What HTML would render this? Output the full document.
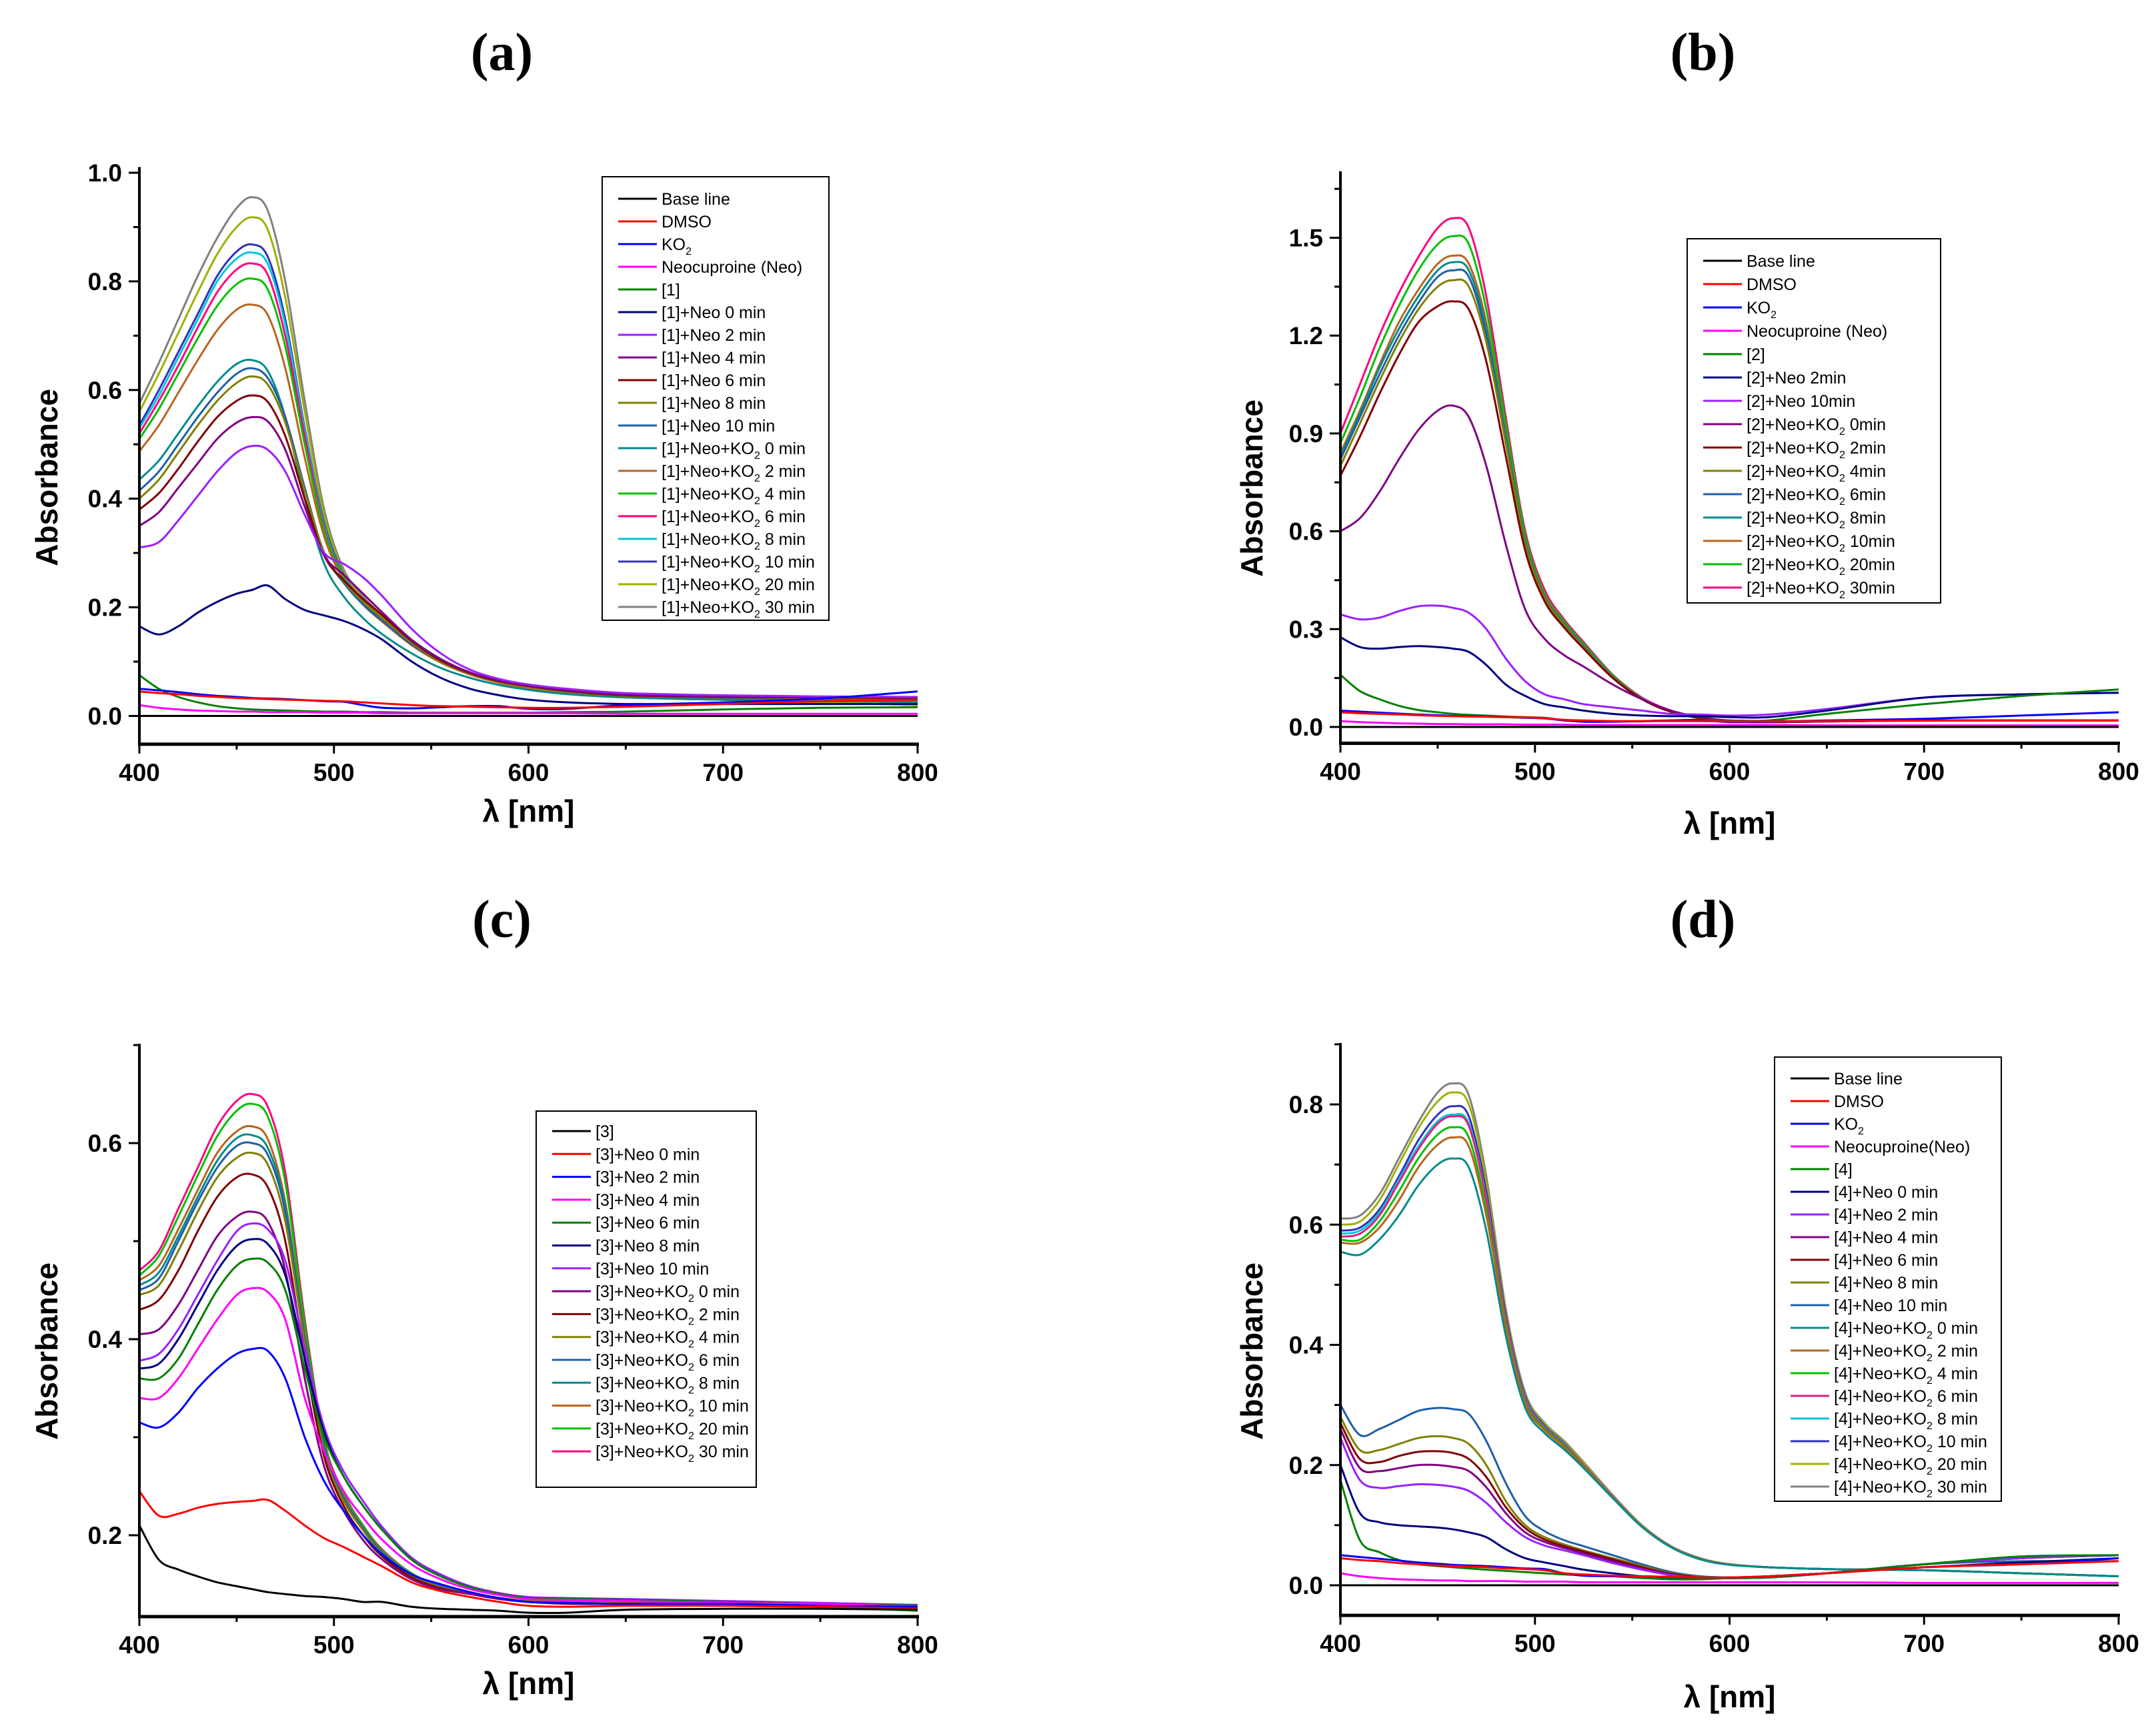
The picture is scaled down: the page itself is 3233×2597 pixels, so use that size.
<!DOCTYPE html>
<html><head><meta charset="utf-8"><title>UV-Vis spectra</title>
<style>
body{margin:0;background:#fff;}
svg{display:block;}
.tick{font-family:"Liberation Sans",sans-serif;font-weight:bold;font-size:37px;fill:#000;}
.atitle{font-family:"Liberation Sans",sans-serif;font-weight:bold;font-size:46px;fill:#000;}
.ptitle{font-family:"Liberation Serif",serif;font-weight:bold;font-size:80px;fill:#000;}
.leg{font-family:"Liberation Sans",sans-serif;font-size:25px;fill:#000;}
</style></head>
<body>
<svg id="chart" width="3233" height="2597" viewBox="0 0 3233 2597" xmlns="http://www.w3.org/2000/svg">
<rect width="3233" height="2597" fill="#fff"/>
</svg>
<script>
// Shared wavelength grid (nm)
const wavelengths=[400,410,420,430,440,450,458,466,475,485,495,505,515,525,540,555,570,585,600,620,650,700,750,800];
const xTicks=[400,500,600,700,800];

// ---- Panel (a) ----
const aNames=["Base line","DMSO","KO2","Neocuproine (Neo)","[1]","[1]+Neo 0 min","[1]+Neo 2 min","[1]+Neo 4 min","[1]+Neo 6 min","[1]+Neo 8 min","[1]+Neo 10 min","[1]+Neo+KO2 0 min","[1]+Neo+KO2 2 min","[1]+Neo+KO2 4 min","[1]+Neo+KO2 6 min","[1]+Neo+KO2 8 min","[1]+Neo+KO2 10 min","[1]+Neo+KO2  20 min","[1]+Neo+KO2  30 min"];
const aColors=["#000000","#ff0000","#0000ff","#ff00ff","#008000","#000080","#9b20ff","#800080","#800000","#808000","#1f5fa8","#008b8b","#b8641e","#00c000","#ff0080","#00c8d8","#3030c0","#a0b000","#808080"];
const aBase=[0,0,0,0,0,0,0,0,0,0,0,0,0,0,0,0,0,0,0,0,0,0,0,0];
const aDMSO=[.045,.042,.04,.037,.035,.033,.032,.031,.03,.029,.028,.027,.025,.023,.02,.018,.017,.016,.015,.015,.017,.022,.027,.03];
const aKO2=[.05,.047,.044,.04,.037,.035,.033,.032,.031,.029,.027,.026,.02,.015,.014,.016,.018,.018,.013,.013,.02,.025,.032,.045];
const aNeo=[.02,.015,.012,.01,.009,.008,.008,.007,.007,.007,.006,.006,.006,.005,.005,.005,.005,.005,.005,.005,.004,.004,.004,.004];
const a1=[.075,.05,.035,.025,.018,.014,.012,.011,.01,.009,.008,.008,.007,.007,.006,.006,.006,.006,.006,.007,.008,.012,.015,.016];
const aN0=[.165,.15,.165,.19,.21,.225,.232,.24,.215,.195,.185,.175,.16,.14,.10,.07,.05,.038,.03,.025,.022,.022,.022,.022];
const aN2=[.31,.32,.36,.405,.45,.485,.497,.49,.45,.37,.30,.28,.255,.22,.16,.115,.085,.068,.058,.05,.042,.038,.036,.035];
const aN4=[.35,.375,.42,.465,.51,.54,.55,.542,.49,.385,.295,.26,.225,.19,.14,.104,.08,.065,.056,.047,.039,.036,.035,.034];
const aN6=[.38,.41,.455,.505,.55,.58,.59,.578,.515,.40,.295,.25,.215,.185,.138,.102,.079,.064,.055,.046,.038,.035,.034,.033];
const aN8=[.40,.435,.485,.535,.58,.613,.625,.61,.54,.415,.30,.248,.21,.18,.135,.10,.078,.063,.054,.045,.037,.034,.033,.032];
const aN10=[.415,.45,.50,.55,.595,.63,.64,.622,.55,.42,.30,.245,.205,.175,.132,.10,.078,.063,.054,.045,.037,.033,.032,.03];
const aK0=[.435,.47,.52,.57,.615,.648,.655,.635,.55,.40,.28,.22,.18,.15,.115,.088,.07,.057,.048,.04,.034,.03,.028,.025];
const aK2=[.487,.535,.595,.655,.71,.748,.757,.738,.64,.475,.33,.25,.205,.173,.13,.098,.076,.061,.051,.041,.034,.03,.028,.025];
const aK4=[.51,.565,.63,.695,.755,.795,.805,.785,.68,.50,.34,.255,.207,.175,.131,.099,.077,.062,.052,.042,.035,.032,.03,.028];
const aK6=[.52,.58,.645,.715,.78,.822,.833,.812,.70,.515,.345,.256,.208,.176,.132,.10,.077,.062,.052,.042,.035,.032,.03,.028];
const aK8=[.53,.59,.66,.73,.80,.842,.853,.832,.72,.525,.35,.258,.21,.177,.132,.10,.077,.062,.052,.042,.035,.03,.028,.025];
const aK10=[.535,.60,.67,.74,.81,.855,.868,.845,.73,.53,.355,.26,.21,.178,.133,.10,.078,.063,.053,.043,.035,.03,.028,.025];
const aK20=[.56,.63,.705,.78,.85,.90,.918,.895,.77,.56,.37,.265,.215,.18,.135,.10,.078,.063,.053,.043,.035,.03,.025,.02];
const aK30=[.575,.65,.73,.81,.88,.935,.955,.93,.80,.58,.38,.27,.22,.185,.14,.105,.08,.065,.055,.045,.035,.03,.025,.02];
const aSeries=[aBase,aDMSO,aKO2,aNeo,a1,aN0,aN2,aN4,aN6,aN8,aN10,aK0,aK2,aK4,aK6,aK8,aK10,aK20,aK30];
const aTicks=[0.0,0.2,0.4,0.6,0.8,1.0];

// ---- Panel (b) ----
const bNames=["Base line","DMSO","KO2","Neocuproine (Neo)","[2]","[2]+Neo 2min","[2]+Neo 10min","[2]+Neo+KO2 0min","[2]+Neo+KO2 2min","[2]+Neo+KO2 4min","[2]+Neo+KO2 6min","[2]+Neo+KO2 8min","[2]+Neo+KO2 10min","[2]+Neo+KO2 20min","[2]+Neo+KO2 30min"];
const bColors=["#000000","#ff0000","#0000ff","#ff00ff","#008000","#000080","#9b20ff","#800080","#800000","#808000","#1f5fa8","#008b8b","#b8641e","#00c000","#ff0080"];
const bBase=[0,0,0,0,0,0,0,0,0,0,0,0,0,0,0,0,0,0,0,0,0,0,0,0];
const bDMSO=[.045,.042,.04,.038,.036,.034,.033,.032,.031,.03,.029,.027,.022,.02,.018,.018,.018,.018,.017,.017,.018,.019,.02,.02];
const bKO2=[.05,.047,.044,.041,.038,.036,.034,.033,.032,.03,.028,.026,.02,.016,.016,.018,.02,.02,.015,.016,.02,.025,.035,.045];
const bNeo=[.018,.015,.013,.011,.01,.009,.009,.008,.008,.008,.007,.007,.007,.006,.006,.006,.006,.006,.006,.006,.005,.005,.005,.005];
const b2=[.16,.11,.085,.065,.052,.045,.04,.037,.035,.032,.03,.028,.02,.018,.017,.017,.02,.022,.02,.02,.04,.07,.095,.115];
const bN2=[.275,.245,.24,.245,.248,.245,.24,.23,.19,.13,.095,.07,.06,.05,.04,.035,.033,.033,.03,.03,.05,.09,.10,.105];
const bN10=[.345,.33,.335,.355,.37,.372,.365,.35,.30,.21,.14,.10,.085,.07,.06,.05,.04,.038,.035,.038,.055,.09,.10,.105];
const bK0=[.60,.64,.72,.82,.91,.97,.985,.95,.80,.56,.36,.27,.22,.185,.13,.085,.05,.03,.02,.018,.018,.02,.02,.02];
const bK2=[.77,.89,1.02,1.14,1.24,1.29,1.305,1.28,1.12,.83,.54,.385,.305,.24,.15,.085,.046,.027,.017,.015,.017,.02,.02,.02];
const bK4=[.80,.93,1.06,1.18,1.28,1.35,1.37,1.35,1.18,.87,.56,.395,.313,.244,.153,.086,.047,.027,.017,.015,.017,.02,.02,.02];
const bK6=[.82,.95,1.08,1.20,1.30,1.38,1.40,1.38,1.20,.88,.565,.398,.315,.246,.154,.087,.047,.027,.017,.015,.017,.02,.02,.02];
const bK8=[.83,.96,1.10,1.22,1.32,1.40,1.425,1.40,1.22,.89,.57,.40,.318,.248,.155,.087,.047,.027,.017,.015,.017,.02,.02,.02];
const bK10=[.84,.97,1.11,1.24,1.34,1.42,1.445,1.42,1.24,.90,.575,.405,.32,.25,.155,.087,.047,.027,.017,.015,.017,.02,.02,.02];
const bK20=[.87,1.01,1.16,1.29,1.40,1.48,1.505,1.48,1.28,.93,.59,.41,.325,.255,.158,.088,.048,.028,.017,.015,.018,.02,.02,.02];
const bK30=[.90,1.05,1.20,1.33,1.44,1.53,1.56,1.53,1.32,.95,.60,.42,.33,.26,.16,.09,.05,.03,.018,.015,.018,.02,.02,.02];
const bSeries=[bBase,bDMSO,bKO2,bNeo,b2,bN2,bN10,bK0,bK2,bK4,bK6,bK8,bK10,bK20,bK30];
const bTicks=[0.0,0.3,0.6,0.9,1.2,1.5];

// ---- Panel (c) ----
const cNames=["[3]","[3]+Neo 0 min","[3]+Neo 2 min","[3]+Neo 4 min","[3]+Neo 6 min","[3]+Neo 8 min","[3]+Neo 10 min","[3]+Neo+KO2 0 min","[3]+Neo+KO2 2 min","[3]+Neo+KO2 4 min","[3]+Neo+KO2 6 min","[3]+Neo+KO2 8 min","[3]+Neo+KO2 10 min","[3]+Neo+KO2 20 min","[3]+Neo+KO2 30 min"];
const cColors=["#000000","#ff0000","#0000ff","#ff00ff","#008000","#000080","#9b20ff","#800080","#800000","#808000","#1f5fa8","#008b8b","#b8641e","#00c000","#ff0080"];
const c3=[.21,.175,.165,.158,.152,.148,.145,.142,.14,.138,.137,.135,.132,.132,.127,.125,.124,.123,.121,.121,.124,.125,.125,.124];
const cN0=[.245,.22,.222,.228,.232,.234,.235,.236,.225,.21,.197,.188,.178,.168,.152,.143,.137,.132,.128,.127,.128,.128,.127,.125];
const cN2=[.315,.31,.325,.35,.37,.385,.39,.388,.36,.30,.255,.225,.20,.18,.16,.15,.142,.136,.132,.131,.13,.13,.128,.127];
const cN4=[.34,.34,.36,.39,.42,.445,.452,.448,.42,.34,.285,.245,.218,.195,.17,.155,.145,.139,.135,.134,.133,.131,.13,.127];
const cN6=[.36,.36,.38,.415,.45,.475,.482,.478,.45,.37,.30,.26,.23,.205,.175,.158,.147,.14,.136,.135,.134,.132,.13,.128];
const cN8=[.37,.375,.40,.435,.47,.495,.502,.497,.465,.38,.305,.26,.23,.205,.175,.158,.147,.14,.136,.135,.134,.132,.13,.128];
const cN10=[.378,.385,.41,.445,.48,.51,.518,.512,.48,.39,.31,.265,.235,.208,.177,.16,.148,.141,.137,.136,.135,.133,.131,.129];
const cK0=[.405,.41,.435,.47,.505,.525,.53,.52,.47,.36,.27,.225,.195,.175,.155,.145,.14,.135,.132,.13,.13,.13,.128,.125];
const cK2=[.43,.44,.47,.51,.545,.565,.568,.555,.50,.38,.28,.23,.20,.178,.157,.146,.14,.135,.132,.131,.13,.13,.127,.124];
const cK4=[.445,.455,.49,.53,.565,.585,.59,.578,.52,.395,.285,.235,.205,.18,.158,.147,.14,.136,.133,.132,.131,.13,.127,.124];
const cK6=[.45,.462,.50,.54,.575,.597,.60,.588,.53,.40,.29,.238,.207,.182,.16,.148,.141,.136,.133,.132,.131,.13,.127,.124];
const cK8=[.455,.468,.505,.545,.582,.605,.608,.595,.535,.40,.29,.238,.207,.182,.16,.148,.141,.136,.133,.132,.131,.13,.127,.124];
const cK10=[.46,.475,.512,.552,.59,.612,.617,.604,.54,.405,.29,.24,.208,.183,.16,.148,.141,.136,.133,.132,.131,.13,.127,.124];
const cK20=[.465,.485,.525,.567,.607,.633,.64,.627,.56,.415,.295,.242,.21,.184,.161,.148,.141,.136,.133,.132,.131,.13,.127,.123];
const cK30=[.47,.49,.533,.575,.617,.643,.65,.637,.57,.42,.297,.243,.21,.185,.161,.148,.141,.136,.133,.132,.131,.13,.127,.123];
const cSeries=[c3,cN0,cN2,cN4,cN6,cN8,cN10,cK0,cK2,cK4,cK6,cK8,cK10,cK20,cK30];
const cTicks=[0.2,0.4,0.6];

// ---- Panel (d) ----
const dNames=["Base line","DMSO","KO2","Neocuproine(Neo)","[4]","[4]+Neo 0 min","[4]+Neo 2 min","[4]+Neo 4 min","[4]+Neo 6 min","[4]+Neo 8 min","[4]+Neo 10 min","[4]+Neo+KO2 0 min","[4]+Neo+KO2 2 min","[4]+Neo+KO2 4 min","[4]+Neo+KO2 6 min","[4]+Neo+KO2 8 min","[4]+Neo+KO2 10 min","[4]+Neo+KO2  20 min","[4]+Neo+KO2  30 min"];
const dColors=["#000000","#ff0000","#0000ff","#ff00ff","#008000","#000080","#9b20ff","#800080","#800000","#808000","#1f5fa8","#008b8b","#b8641e","#00c000","#e0207f","#00c8d8","#3030c0","#a0b000","#808080"];
const dBase=[0,0,0,0,0,0,0,0,0,0,0,0,0,0,0,0,0,0,0,0,0,0,0,0];
const dDMSO=[.045,.042,.04,.037,.035,.033,.032,.031,.03,.028,.027,.025,.02,.018,.016,.015,.014,.013,.013,.015,.02,.03,.035,.04];
const dKO2=[.05,.047,.044,.041,.038,.036,.034,.033,.032,.03,.028,.027,.02,.016,.015,.015,.014,.013,.013,.015,.02,.03,.035,.045];
const dNeo=[.02,.015,.012,.01,.009,.008,.008,.007,.007,.007,.006,.006,.006,.005,.005,.005,.005,.005,.005,.005,.005,.004,.004,.004];
const d4=[.175,.075,.055,.042,.035,.032,.03,.028,.026,.024,.022,.02,.018,.017,.015,.012,.01,.01,.012,.013,.02,.035,.048,.05];
const dN0=[.20,.12,.105,.10,.098,.096,.093,.088,.08,.06,.045,.038,.032,.026,.02,.015,.012,.012,.012,.015,.02,.03,.038,.045];
const dN2=[.245,.175,.162,.165,.168,.167,.164,.157,.137,.105,.08,.066,.058,.05,.037,.026,.017,.012,.012,.013,.02,.035,.045,.05];
const dN4=[.26,.195,.19,.195,.20,.20,.197,.19,.163,.12,.088,.072,.062,.053,.04,.028,.018,.012,.012,.013,.02,.035,.045,.05];
const dN6=[.27,.21,.205,.215,.222,.223,.22,.21,.18,.13,.095,.076,.065,.056,.043,.03,.019,.013,.012,.013,.02,.035,.045,.05];
const dN8=[.28,.225,.225,.235,.245,.248,.245,.235,.20,.14,.10,.08,.068,.058,.045,.032,.02,.014,.012,.013,.02,.035,.045,.05];
const dN10=[.30,.25,.26,.275,.29,.295,.293,.285,.24,.17,.115,.09,.075,.065,.05,.035,.022,.015,.013,.014,.02,.035,.04,.04];
const dK0=[.555,.55,.575,.615,.665,.70,.71,.695,.59,.415,.295,.253,.226,.195,.145,.097,.063,.043,.034,.03,.027,.025,.02,.015];
const dK2=[.57,.57,.595,.64,.695,.733,.745,.73,.615,.43,.302,.258,.23,.197,.146,.098,.064,.044,.035,.03,.027,.025,.02,.015];
const dK4=[.575,.575,.605,.655,.71,.75,.762,.745,.625,.435,.305,.26,.232,.198,.146,.098,.064,.044,.035,.03,.027,.025,.02,.015];
const dK6=[.58,.585,.615,.67,.725,.768,.78,.764,.642,.443,.31,.262,.234,.20,.147,.098,.064,.044,.035,.03,.027,.025,.02,.015];
const dK8=[.585,.59,.62,.675,.73,.772,.783,.768,.645,.445,.312,.263,.235,.20,.147,.098,.064,.044,.035,.03,.027,.025,.02,.015];
const dK10=[.59,.595,.625,.68,.74,.783,.797,.78,.655,.45,.315,.265,.236,.20,.147,.098,.064,.044,.035,.03,.027,.025,.02,.015];
const dK20=[.60,.605,.64,.70,.76,.805,.82,.80,.67,.455,.318,.268,.238,.203,.148,.099,.064,.044,.035,.03,.027,.025,.02,.015];
const dK30=[.61,.615,.65,.71,.77,.82,.835,.815,.68,.46,.32,.27,.24,.205,.15,.10,.065,.045,.035,.03,.027,.025,.02,.015];
const dSeries=[dBase,dDMSO,dKO2,dNeo,d4,dN0,dN2,dN4,dN6,dN8,dN10,dK0,dK2,dK4,dK6,dK8,dK10,dK20,dK30];
const dTicks=[0.0,0.2,0.4,0.6,0.8];

const NS="http://www.w3.org/2000/svg";
const svg=document.getElementById("chart");
function mk(tag,attrs,parent){const e=document.createElementNS(NS,tag);for(const k in attrs)e.setAttribute(k,attrs[k]);parent.appendChild(e);return e;}

function smoothPath(pts){
  let d="M"+pts[0][0].toFixed(1)+","+pts[0][1].toFixed(1);
  for(let i=0;i<pts.length-1;i++){
    const p0=pts[Math.max(0,i-1)],p1=pts[i],p2=pts[i+1],p3=pts[Math.min(pts.length-1,i+2)];
    const c1x=p1[0]+(p2[0]-p0[0])/6,c1y=p1[1]+(p2[1]-p0[1])/6;
    const c2x=p2[0]-(p3[0]-p1[0])/6,c2y=p2[1]-(p3[1]-p1[1])/6;
    d+=" C"+c1x.toFixed(1)+","+c1y.toFixed(1)+" "+c2x.toFixed(1)+","+c2y.toFixed(1)+" "+p2[0].toFixed(1)+","+p2[1].toFixed(1);
  }
  return d;
}

function legendLabel(textEl,name){
  const idx=name.indexOf("KO2");
  if(idx<0){textEl.textContent=name;return;}
  const t1=document.createElementNS(NS,"tspan");t1.textContent=name.slice(0,idx+2);textEl.appendChild(t1);
  const t2=document.createElementNS(NS,"tspan");t2.textContent="2";t2.setAttribute("font-size","16");t2.setAttribute("dy","7");textEl.appendChild(t2);
  const t3=document.createElementNS(NS,"tspan");t3.textContent=name.slice(idx+3);t3.setAttribute("dy","-7");textEl.appendChild(t3);
}

function drawPanel(cfg){
  const g=mk("g",{},svg);
  
  
  const sx=v=>cfg.x0+(v-400)/400*(cfg.x1-cfg.x0);
  const sy=v=>cfg.py0+(v-cfg.v0)*(cfg.py1-cfg.py0)/(cfg.v1-cfg.v0);
  const yTop=sy(cfg.yMax), yBot=sy(cfg.yMin);
  const t=mk("text",{x:(cfg.x0+cfg.x1)/2-40,y:cfg.titleY,"text-anchor":"middle",class:"ptitle"},g);
  t.textContent=cfg.title;
  
  
  const clipId="clip-"+cfg.id;
  const cp=mk("clipPath",{id:clipId},g);
  mk("rect",{x:cfg.x0,y:yTop,width:cfg.x1-cfg.x0,height:yBot-yTop},cp);
  const sg=mk("g",{"clip-path":"url(#"+clipId+")"},g);
  for(let s=cfg.series.length-1;s>=0;s--){
    const vals=cfg.series[s];
    const pts=wavelengths.map((w,i)=>[sx(w),sy(vals[i])]);
    const p=mk("path",{d:smoothPath(pts),fill:"none",stroke:cfg.colors[s],"stroke-width":3,"stroke-linejoin":"round"},sg);
    
    
  }
  const ya=mk("line",{x1:cfg.x0,y1:yTop-2,x2:cfg.x0,y2:yBot,stroke:"#000","stroke-width":4},g);
  
  
  const xa=mk("line",{x1:cfg.x0-2,y1:yBot,x2:cfg.x1+2,y2:yBot,stroke:"#000","stroke-width":5},g);
  
  
  const step=cfg.ticks[1]-cfg.ticks[0];
  for(let v=cfg.ticks[0]-step;v<=cfg.yMax+1e-9;v+=step/2){
    if(v<cfg.yMin-1e-9)continue;
    const y=sy(v);
    const major=cfg.ticks.some(tv=>Math.abs(tv-v)<1e-6);
    mk("line",{x1:cfg.x0-(major?16:9),y1:y,x2:cfg.x0,y2:y,stroke:"#000","stroke-width":3},g);
  }
  cfg.ticks.forEach(v=>{
    const tl=mk("text",{x:cfg.x0-26,y:sy(v)+13,"text-anchor":"end",class:"tick"},g);
    tl.textContent=v.toFixed(1);
    
    
  });
  for(let v=400;v<=800;v+=50){
    const major=v%100===0;
    mk("line",{x1:sx(v),y1:yBot,x2:sx(v),y2:yBot+(major?14:8),stroke:"#000","stroke-width":3},g);
  }
  xTicks.forEach(v=>{
    const tl=mk("text",{x:sx(v),y:yBot+55,"text-anchor":"middle",class:"tick"},g);
    tl.textContent=String(v);
    
    
  });
  const xt=mk("text",{x:(cfg.x0+cfg.x1)/2,y:cfg.xTitleY,"text-anchor":"middle",class:"atitle"},g);
  xt.textContent="λ [nm]";
  
  
  const yt=mk("text",{x:0,y:0,"text-anchor":"middle",class:"atitle",transform:"translate("+cfg.yTitleX+","+cfg.yTitleY+") rotate(-90)"},g);
  yt.textContent="Absorbance";
  
  
  const L=cfg.legend;
  const lg=mk("g",{},g);
  
  
  mk("rect",{x:L.x,y:L.y,width:L.w,height:L.h,fill:"#fff",stroke:"#000","stroke-width":2},lg);
  cfg.names.forEach((n,i)=>{
    const ey=L.y+L.first+i*L.dy;
    const ln=mk("line",{x1:L.x+24,y1:ey,x2:L.x+82,y2:ey,stroke:cfg.colors[i],"stroke-width":3},lg);
    
    
    const tx=mk("text",{x:L.x+89,y:ey+9,class:"leg"},lg);
    legendLabel(tx,n);
    
    
  });
}

drawPanel({id:"panel-a",title:"(a)",titleY:105,x0:209,x1:1376,v0:0,v1:1.0,py0:1073.5,py1:259,yMin:-0.052,yMax:1.008,ticks:aTicks,series:aSeries,colors:aColors,names:aNames,xTitleY:1232,yTitleX:86,yTitleY:716,legend:{x:903,y:265,w:340,h:665,first:33,dy:34}});
drawPanel({id:"panel-b",title:"(b)",titleY:105,x0:2010,x1:3177,v0:0,v1:1.5,py0:1090,py1:356.5,yMin:-0.05,yMax:1.70,ticks:bTicks,series:bSeries,colors:bColors,names:bNames,xTitleY:1250,yTitleX:1893,yTitleY:732,legend:{x:2530,y:358,w:380,h:546,first:33,dy:35}});
drawPanel({id:"panel-c",title:"(c)",titleY:1405,x0:209,x1:1376,v0:0.2,v1:0.6,py0:2302,py1:1714,yMin:0.117,yMax:0.70,ticks:cTicks,series:cSeries,colors:cColors,names:cNames,xTitleY:2540,yTitleX:86,yTitleY:2026,legend:{x:804,y:1666,w:330,h:564,first:30,dy:34.3}});
drawPanel({id:"panel-d",title:"(d)",titleY:1405,x0:2010,x1:3177,v0:0,v1:0.8,py0:2377,py1:1656,yMin:-0.05,yMax:0.90,ticks:dTicks,series:dSeries,colors:dColors,names:dNames,xTitleY:2560,yTitleX:1893,yTitleY:2026,legend:{x:2661,y:1585,w:340,h:666,first:32,dy:34}});
</script>
</body></html>
